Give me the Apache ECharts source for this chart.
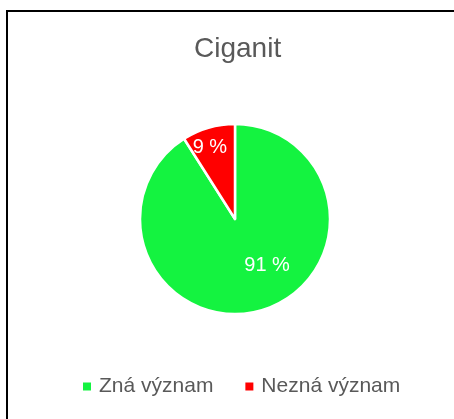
<!DOCTYPE html>
<html>
<head>
<meta charset="utf-8">
<script src="https://cdn.jsdelivr.net/npm/echarts@6/dist/echarts.min.js"></script>
<style>
  html, body { margin: 0; padding: 0; background: #fff; }
  #chart { width: 454px; height: 419px; }
</style>
</head>
<body>
<div id="chart"></div>
<script>
// data
var titleText = 'Ciganit'
var categories = ['Zná význam', 'Nezná význam']
var values = [91, 9]
var colors = ['#14f340', '#ff0000']

var chart = echarts.init(document.getElementById('chart'))

// label nudges so they sit where the reference puts them
var labelShift = [[18, -2], [-11, -23]]

chart.setOption({
  animation: false,
  title: {
    text: titleText,
    left: 194,
    top: 35,
    padding: 0,
    textStyle: {
      fontFamily: 'Liberation Sans',
      fontSize: 28,
      fontWeight: 'normal',
      color: '#595959'
    }
  },
  legend: {
    data: categories,
    bottom: 17,
    left: 76,
    icon: 'rect',
    itemWidth: 10,
    itemHeight: 10,
    itemGap: 30,
    textStyle: {
      fontFamily: 'Liberation Sans',
      fontSize: 21,
      color: '#595959',
      padding: [0, 0, 0, 2]
    }
  },
  // chart frame
  graphic: [{
    type: 'rect',
    shape: { x: 7, y: 11, width: 460, height: 420 },
    style: { fill: 'none', stroke: '#000', lineWidth: 2 }
  }],
  series: [{
    type: 'pie',
    center: [235, 219],
    radius: 95,
    startAngle: 90,
    clockwise: true,
    itemStyle: {
      borderColor: '#fff',
      borderWidth: 2.5
    },
    label: {
      show: true,
      position: 'inside',
      formatter: '{c} %',
      color: '#fff',
      fontFamily: 'Liberation Sans',
      fontSize: 20
    },
    labelLayout: function (params) {
      var s = labelShift[params.dataIndex]
      return { dx: s[0], dy: s[1] }
    },
    emphasis: { disabled: true },
    data: categories.map(function (name, i) {
      return { name: name, value: values[i], itemStyle: { color: colors[i] } }
    })
  }]
})
</script>
</body>
</html>
